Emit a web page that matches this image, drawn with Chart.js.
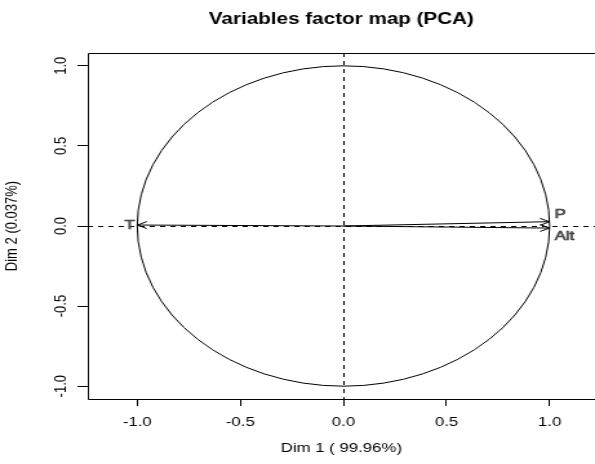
<!DOCTYPE html>
<html>
<head>
<meta charset="utf-8">
<script src="https://cdn.jsdelivr.net/npm/chart.js@4"></script>
<style>
    html, body { margin: 0; padding: 0; background: #fff; }
    #chart { display: block; }
</style>
</head>
<body>
<!-- the reference is an R plot stretched sideways, so draw narrow and widen with an inline style -->
<canvas id="chart" width="461" height="464" style="width: 595px; height: 464px;"></canvas>
<script>
const variables = ['P', 'Alt', 'T'];
const dim1 = [0.999, 0.999, -0.999];
const dim2 = [0.027, -0.013, 0.006];
const xTicks = [-1.0, -0.5, 0.0, 0.5, 1.0];
const yTicks = [-1.0, -0.5, 0.0, 0.5, 1.0];
const titleText = 'Variables factor map (PCA)';
const xLabel = 'Dim 1 ( 99.96%)';
const yLabel = 'Dim 2 (0.037%)';
const circleRadius = 1;

const family = "'Liberation Sans', Arial, sans-serif";

const factorMap = {
    id: 'factorMap',
    beforeDatasetsDraw(chart) {
        const {ctx, chartArea: a, scales: {x, y}} = chart;
        const x0 = Math.round(x.getPixelForValue(0)) + 0.5;
        const y0 = Math.round(y.getPixelForValue(0)) + 0.5;
        const top = Math.round(a.top) + 0.5;
        const bottom = Math.round(a.bottom) + 0.5;
        const left = Math.round(a.left) + 0.5;

        ctx.save();
        ctx.strokeStyle = '#000';
        ctx.lineWidth = 1;

        // frame, right side is cut off in the reference
        ctx.beginPath();
        ctx.moveTo(a.right + 2, top);
        ctx.lineTo(left, top);
        ctx.lineTo(left, bottom);
        ctx.lineTo(a.right + 2, bottom);
        ctx.stroke();

        // correlation circle
        ctx.beginPath();
        ctx.ellipse(
            x.getPixelForValue(0), y.getPixelForValue(0),
            x.getPixelForValue(circleRadius) - x.getPixelForValue(0),
            y.getPixelForValue(0) - y.getPixelForValue(circleRadius),
            0, 0, Math.PI * 2
        );
        ctx.stroke();

        // dashed axes through the origin
        ctx.setLineDash([4, 4]);
        ctx.beginPath();
        ctx.moveTo(a.left, y0);
        ctx.lineTo(a.right, y0);
        ctx.moveTo(x0, a.top);
        ctx.lineTo(x0, a.bottom);
        ctx.stroke();
        ctx.restore();
    },
    afterDatasetsDraw(chart) {
        const ctx = chart.ctx;
        ctx.save();
        ctx.strokeStyle = '#000';
        ctx.lineWidth = 1;

        chart.data.datasets.forEach((ds, i) => {
            const pts = chart.getDatasetMeta(i).data;
            const p0 = pts[0];
            const p1 = pts[1];
            const ang = Math.atan2(p1.y - p0.y, p1.x - p0.x);
            const len = 8;
            const spread = Math.PI / 7;

            ctx.beginPath();
            ctx.moveTo(p1.x - len * Math.cos(ang - spread), p1.y - len * Math.sin(ang - spread));
            ctx.lineTo(p1.x, p1.y);
            ctx.lineTo(p1.x - len * Math.cos(ang + spread), p1.y - len * Math.sin(ang + spread));
            ctx.stroke();

            // variable name beside the arrow tip
            let dy = 0;
            if (dim2[i] > 0.01) dy = -7;
            if (dim2[i] < -0.01) dy = 8;
            ctx.font = `13px ${family}`;
            ctx.textBaseline = 'middle';
            ctx.textAlign = dim1[i] > 0 ? 'left' : 'right';
            const tx = dim1[i] > 0 ? p1.x + 4 : p1.x - 2;
            ctx.fillStyle = '#777';
            ctx.fillText(ds.label, tx, p1.y + dy);
            ctx.lineWidth = 0.6;
            ctx.strokeStyle = '#222';
            ctx.strokeText(ds.label, tx, p1.y + dy);
            ctx.lineWidth = 1;
            ctx.strokeStyle = '#000';
        });
        ctx.restore();
    },
    afterDraw(chart) {
        const {ctx, chartArea: a} = chart;
        ctx.save();
        ctx.font = `bold 16px ${family}`;
        ctx.fillStyle = '#000';
        ctx.textAlign = 'center';
        ctx.textBaseline = 'middle';
        ctx.fillText(titleText, (a.left + a.right) / 2, 20);
        ctx.restore();
    }
};

function buildDatasets() {
    return variables.map((name, i) => ({
        label: name,
        data: [{x: 0, y: 0}, {x: dim1[i], y: dim2[i]}],
        showLine: true,
        borderColor: '#000',
        borderWidth: 1,
        pointRadius: 0,
        fill: false
    }));
}

function drawChart() {
    const context = document.getElementById('chart');

    new Chart(context, {
        type: 'scatter',
        data: {datasets: buildDatasets()},
        options: {
            responsive: false,
            devicePixelRatio: 1,
            animation: false,
            events: [],
            layout: {padding: {top: 53, right: 0, bottom: 0, left: 0}},
            plugins: {
                legend: {display: false},
                tooltip: {enabled: false},
                title: {display: false}
            },
            scales: {
                x: {
                    type: 'linear',
                    min: -1.24,
                    max: 1.22,
                    afterBuildTicks: scale => {
                        scale.ticks = xTicks.map(v => ({value: v}));
                    },
                    afterFit: scale => {
                        scale.height = 65;
                    },
                    grid: {drawOnChartArea: false, drawTicks: true, tickLength: 7, color: '#000'},
                    border: {display: false},
                    ticks: {
                        color: '#000',
                        font: {family: family, size: 13},
                        padding: 9,
                        maxRotation: 0,
                        autoSkip: false,
                        callback: v => v.toFixed(1)
                    },
                    title: {
                        display: true,
                        text: xLabel,
                        color: '#000',
                        font: {family: family, size: 13},
                        padding: {top: 0, bottom: 8}
                    }
                },
                y: {
                    type: 'linear',
                    min: -1.08,
                    max: 1.08,
                    afterBuildTicks: scale => {
                        scale.ticks = yTicks.map(v => ({value: v}));
                    },
                    afterFit: scale => {
                        scale.width = 68;
                    },
                    grid: {drawOnChartArea: false, drawTicks: true, tickLength: 8, color: '#000'},
                    border: {display: false},
                    ticks: {
                        color: '#000',
                        font: {family: family, size: 13},
                        padding: 1,
                        minRotation: 90,
                        maxRotation: 90,
                        crossAlign: 'center',
                        autoSkip: false,
                        callback: v => v.toFixed(1)
                    },
                    title: {
                        display: true,
                        text: yLabel,
                        color: '#000',
                        font: {family: family, size: 13},
                        padding: {top: 2, bottom: 0}
                    }
                }
            }
        },
        plugins: [factorMap]
    });
}

drawChart();
</script>
</body>
</html>
